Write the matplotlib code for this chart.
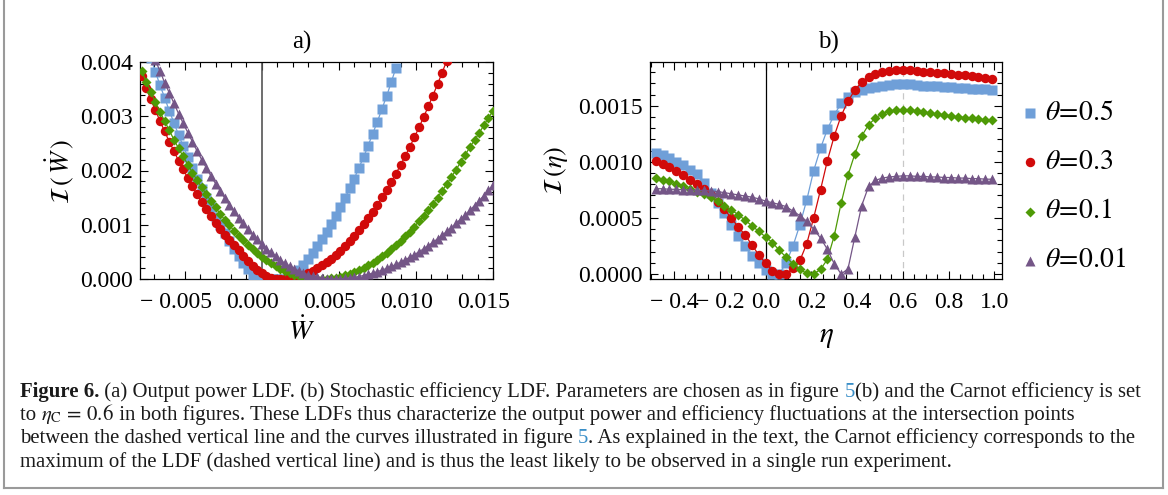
import matplotlib
matplotlib.use("Agg")
import matplotlib.pyplot as plt
import matplotlib.transforms as mtransforms
import numpy as np
from matplotlib.ticker import MultipleLocator
from matplotlib.lines import Line2D

# ---- data (in units of 1e-4) ----
# panel a: output power LDF, sampled every 0.0003 from -0.0078 to 0.0150
w_dot = np.arange(-78, 151, 3) * 1e-4
lw_05 = [None, None, 40.7, 38.2, 35.7, 33.4, 31.0, 28.8, 26.6, 24.5,
         22.5, 20.4, 18.5, 16.6, 14.9, 13.2, 11.5, 9.9, 8.4, 7.0,
         5.6, 4.3, 3.0, 1.8, 0.7, 0.0, 0.0, 0.0, 0.0, 0.0,
         0.0, 0.0, 0.0, 0.8, 1.7, 2.6, 3.7, 4.8, 6.0, 7.3,
         8.7, 10.1, 11.6, 13.2, 14.9, 16.7, 18.5, 20.5, 22.4, 24.6,
         26.8, 29.0, 31.4, 33.7, 36.3, 38.9] + [None] * 21
lw_03 = [37.4, 35.2, 33.1, 31.1, 29.1, 27.2, 25.3, 23.6, 21.8, 20.2,
         18.6, 17.1, 15.6, 14.2, 12.9, 11.6, 10.4, 9.2, 8.1, 7.1,
         6.2, 5.3, 4.3, 3.3, 2.4, 1.7, 1.1, 0.6, 0.27, 0.07,
         0.0, 0.03, 0.12, 0.28, 0.50, 0.78, 1.12, 1.52, 1.99, 2.52,
         3.11, 3.76, 4.47, 5.25, 6.09, 6.99, 7.95, 8.97, 10.06, 11.21,
         12.42, 13.69, 15.03, 16.43, 17.88, 19.41, 20.99, 22.64, 24.34, 26.11,
         27.95, 29.84, 31.80, 33.81, 35.89, 38.04, 40.24] + [None] * 10
lw_01 = [38.4, 36.4, 34.5, 32.6, 30.8, 29.1, 27.4, 25.7, 24.1, 22.6,
         21.1, 19.6, 18.2, 16.9, 15.6, 14.4, 13.2, 12.0, 10.9, 9.9,
         8.9, 8.0, 7.1, 6.3, 5.5, 4.8, 4.1, 3.5, 2.9, 2.4,
         1.9, 1.5, 1.1, 0.8, 0.56, 0.34, 0.18, 0.07, 0.01, 0.0,
         0.04, 0.13, 0.26, 0.44, 0.67, 0.94, 1.26, 1.63, 2.04, 2.50,
         3.01, 3.56, 4.16, 4.81, 5.50, 6.24, 7.03, 7.87, 8.75, 9.67,
         10.65, 11.67, 12.74, 13.86, 15.02, 16.23, 17.48, 18.79, 20.13, 21.53,
         22.9, 24.3, 25.6, 26.9, 28.3, 29.7, 31.0]
lw_001 = [None, None, None, 40.3, 38.3, 36.2, 34.3, 32.4, 30.5, 28.7,
          27.0, 25.3, 23.6, 22.0, 20.5, 19.0, 17.6, 16.3, 14.9, 13.7,
          12.5, 11.3, 10.3, 9.2, 8.2, 7.3, 6.5, 5.6, 4.9, 4.2,
          3.5, 2.9, 2.4, 1.9, 1.5, 1.1, 0.8, 0.5, 0.3, 0.15,
          0.05, 0.0, 0.01, 0.04, 0.1, 0.19, 0.31, 0.46, 0.64, 0.85,
          1.08, 1.35, 1.64, 1.96, 2.31, 2.69, 3.10, 3.53, 4.0, 4.49,
          5.02, 5.57, 6.15, 6.76, 7.40, 8.07, 8.76, 9.49, 10.24, 11.02,
          11.83, 12.67, 13.54, 14.44, 15.37, 16.32, 17.31]

# panel b: stochastic efficiency LDF, sampled every 0.03 from -0.48 to 0.99
eta = np.arange(-16, 34) * 0.03
le_05 = [10.8, 10.6, 10.3, 10.0, 9.7, 9.3, 8.9, 8.1, 7.2, 6.3,
         5.4, 4.4, 3.4, 2.5, 1.6, 0.95, 0.35, 0.0, 0.0, 1.0,
         2.5, 4.4, 6.6, 9.2, 11.2, 12.9, 14.2, 15.2, 15.8, 16.2,
         16.4, 16.6, 16.7, 16.8, 16.85, 16.9, 16.9, 16.9, 16.85, 16.8,
         16.8, 16.75, 16.7, 16.65, 16.6, 16.55, 16.5, 16.5, 16.45, 16.4]
le_03 = [10.1, 9.8, 9.55, 9.2, 8.85, 8.4, 8.0, 7.55, 7.0, 6.4,
         5.75, 5.0, 4.2, 3.5, 2.6, 1.7, 0.95, 0.3, 0.0, 0.0,
         0.5, 1.2, 2.7, 5.0, 7.5, 10.1, 12.3, 14.1, 15.4, 16.4,
         17.1, 17.55, 17.85, 18.0, 18.1, 18.15, 18.2, 18.15, 18.1, 18.05,
         18.0, 17.95, 17.9, 17.85, 17.75, 17.7, 17.65, 17.55, 17.5, 17.4]
le_01 = [8.6, 8.4, 8.25, 8.0, 7.8, 7.55, 7.35, 7.1, 6.85, 6.5,
         6.1, 5.7, 5.3, 4.8, 4.3, 3.8, 3.3, 2.8, 2.1, 1.5,
         0.9, 0.4, 0.05, 0.0, 0.4, 1.3, 3.4, 6.3, 8.8, 10.7,
         12.3, 13.3, 13.9, 14.3, 14.5, 14.6, 14.65, 14.6, 14.5, 14.4,
         14.35, 14.25, 14.2, 14.1, 14.0, 13.95, 13.9, 13.8, 13.75, 13.7]
le_001 = [7.6, 7.6, 7.55, 7.55, 7.5, 7.5, 7.45, 7.45, 7.4, 7.35,
          7.25, 7.15, 7.05, 6.95, 6.85, 6.7, 6.5, 6.35, 6.2, 6.0,
          5.6, 5.2, 4.7, 4.0, 3.2, 2.2, 0.9, 0.0, 0.45, 3.3,
          6.1, 7.8, 8.35, 8.55, 8.65, 8.7, 8.75, 8.75, 8.7, 8.7,
          8.65, 8.65, 8.6, 8.6, 8.55, 8.55, 8.5, 8.5, 8.45, 8.45]

theta_labels = [r"$\theta\!=\!0.5$", r"$\theta\!=\!0.3$", r"$\theta\!=\!0.1$", r"$\theta\!=\!0.01$"]
a_xticks = [-0.005, 0.0, 0.005, 0.010, 0.015]
a_xticklabels = ["\u2212 0.005", "0.000", "0.005", "0.010", "0.015"]
a_yticks = [0.0, 0.001, 0.002, 0.003, 0.004]
a_yticklabels = ["0.000", "0.001", "0.002", "0.003", "0.004"]
b_xticks = [-0.4, -0.2, 0.0, 0.2, 0.4, 0.6, 0.8, 1.0]
b_xticklabels = ["\u2212 0.4", "\u2212 0.2", "0.0", "0.2", "0.4", "0.6", "0.8", "1.0"]
b_yticks = [0.0, 0.0005, 0.0010, 0.0015]
b_yticklabels = ["0.0000", "0.0005", "0.0010", "0.0015"]
eta_carnot = 0.6

colors = ["#6f9fd8", "#d10a0a", "#4e9a06", "#745687"]
markers = ["s", "o", "D", "^"]
msizes = [6.5, 6.8, 5.5, 7.6]

plt.rcParams["font.family"] = ["Liberation Serif", "DejaVu Serif"]
plt.rcParams["mathtext.fontset"] = "stix"

W, H = 1168, 495
fig = plt.figure(figsize=(W / 100, H / 100), dpi=100)


def add_axes_px(left, top, right, bottom):
    return fig.add_axes([left / W, 1 - bottom / H, (right - left) / W, (bottom - top) / H])


def text_px(x, y, s, **kw):
    return fig.text(x / W, 1 - y / H, s, **kw)


def style_axes(ax):
    ax.tick_params(which="both", direction="in", top=True, right=True,
                   labelsize=17, width=0.8)
    ax.tick_params(axis="x", pad=9)
    ax.tick_params(axis="y", pad=5)
    ax.tick_params(which="major", length=6)
    ax.tick_params(which="minor", length=3.5)
    for sp in ax.spines.values():
        sp.set_linewidth(0.9)


def plot_series(ax, x, ys):
    for y, c, m, ms in zip(ys, colors, markers, msizes):
        y = np.array(y, dtype=float) * 1e-4
        ax.plot(x, y, color=c, lw=0.9, marker=m, ms=ms, mec="none", zorder=3)


# ---- panel a ----
ax_a = add_axes_px(140, 62, 493, 279)
ax_a.axvline(0, color="#555555", lw=1.2, zorder=2)
plot_series(ax_a, w_dot, [lw_05, lw_03, lw_01, lw_001])
ax_a.set_xlim(-0.0079, 0.0150)
ax_a.set_ylim(0, 0.004)
ax_a.set_xticks(a_xticks, a_xticklabels)
ax_a.set_yticks(a_yticks, a_yticklabels)
ax_a.xaxis.set_minor_locator(MultipleLocator(0.001))
ax_a.yaxis.set_minor_locator(MultipleLocator(0.0002))
style_axes(ax_a)
# the reference sets these labels a little to the left of their ticks
shift = mtransforms.ScaledTranslation(-9 / 100, 0, fig.dpi_scale_trans)
for lab in ax_a.get_xticklabels():
    lab.set_transform(lab.get_transform() + shift)

# ---- panel b ----
ax_b = add_axes_px(650, 62, 1002, 279)
ax_b.axvline(0, color="black", lw=0.9, zorder=2)
ax_b.axvline(eta_carnot, color="#c8c8c8", lw=0.9, ls=(0, (5, 4)), zorder=1)
plot_series(ax_b, eta, [le_05, le_03, le_01, le_001])
ax_b.set_xlim(-0.505, 1.033)
ax_b.set_ylim(-0.000045, 0.00189)
ax_b.set_xticks(b_xticks, b_xticklabels)
ax_b.set_yticks(b_yticks, b_yticklabels)
ax_b.xaxis.set_minor_locator(MultipleLocator(0.05))
ax_b.yaxis.set_minor_locator(MultipleLocator(0.0001))
style_axes(ax_b)

# titles and axis labels
text_px(302, 42, "a)", fontsize=18, ha="center", va="center")
text_px(828, 42, "b)", fontsize=18, ha="center", va="center")
text_px(302, 332, r"$\dot{W}$", fontsize=20, ha="center", va="center")
text_px(826, 337, r"$\eta$", fontsize=21, ha="center", va="center")
text_px(60, 172, r"$\mathcal{I}\,(\,\dot{W}\,)$", fontsize=19, ha="center", va="center", rotation=90)
text_px(556, 170, r"$\mathcal{I}\,(\eta)$", fontsize=19, ha="center", va="center", rotation=90)

# legend, drawn by hand next to panel b
for i, (lab, c, m, ms) in enumerate(zip(theta_labels, colors, markers, msizes)):
    yy = 113 + i * 49.3
    fig.add_artist(Line2D([1030 / W], [1 - yy / H], marker=m, color=c, ms=ms,
                          mec="none", ls="none", transform=fig.transFigure))
    text_px(1045, yy, lab, fontsize=20, ha="left", va="center")

# frame around the figure + caption
for xs, ys in [([4, 4], [0, 488]), ([1163, 1163], [0, 488]), ([4, 1163], [488, 488])]:
    fig.add_artist(Line2D([x / W for x in xs], [1 - y / H for y in ys],
                          color="#9a9a9a", lw=1.5, transform=fig.transFigure))

link = "#3a8fc8"
caption = [
    [("Figure 6.", {"weight": "bold"}),
     (" (a) Output power LDF. (b) Stochastic efficiency LDF. Parameters are chosen as in figure ", {}),
     ("5", {"color": link}), ("(b) and the Carnot efficiency is set", {})],
    [("to ", {}), (r"$\eta_{\mathrm{C}}\,=\,0.6$", {}),
     (" in both figures. These LDFs thus characterize the output power and efficiency fluctuations at the intersection points", {})],
    [("between the dashed vertical line and the curves illustrated in figure ", {}), ("5", {"color": link}),
     (". As explained in the text, the Carnot efficiency corresponds to the", {})],
    [("maximum of the LDF (dashed vertical line) and is thus the least likely to be observed in a single run experiment.", {})],
]

renderer = fig.canvas.get_renderer()


def line_width(pieces, size):
    total = 0
    for s, kw in pieces:
        t = text_px(0, 0, s, fontsize=size, **kw)
        total += t.get_window_extent(renderer).width
        t.remove()
    return total


cap_size = 12 * 1121 / line_width(caption[0], 12)
for row, pieces in enumerate(caption):
    x = 20
    for s, kw in pieces:
        t = text_px(x, 397 + row * 23.2, s, fontsize=cap_size, va="baseline", color=kw.get("color", "#1a1a1a"),
                    **{k: v for k, v in kw.items() if k != "color"})
        x += t.get_window_extent(renderer).width

fig.savefig("out.png", dpi=100)
